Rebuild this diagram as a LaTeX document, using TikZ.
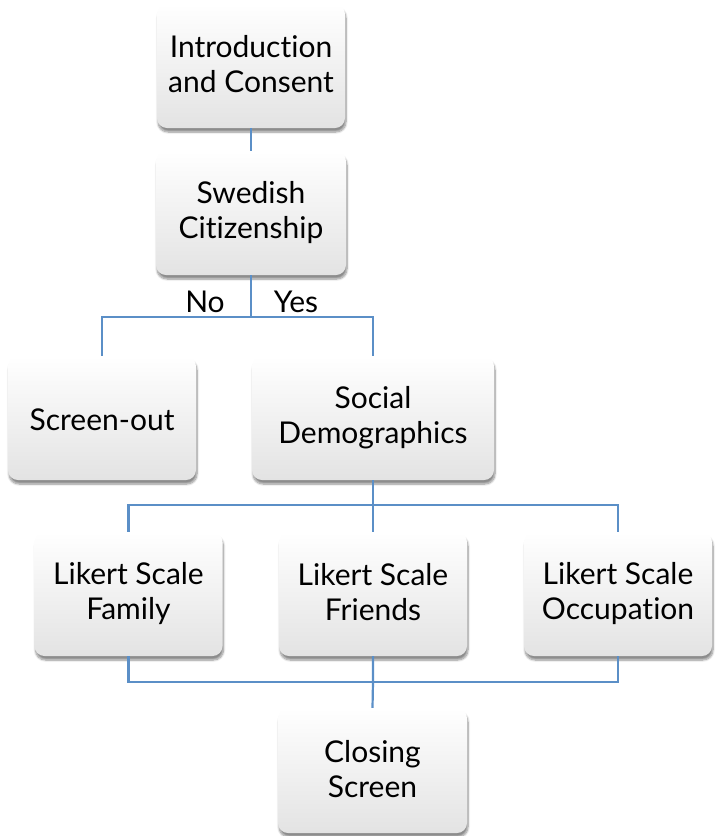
\documentclass[tikz,border=0pt]{standalone}
\usepackage{fontspec}
\setmainfont{Lato}[Ligatures=CommonOff]
\usetikzlibrary{shadows.blur}
\definecolor{conn}{HTML}{5B8FC7}
% fixed line struts so every box text sits the same way
\newcommand{\topstrut}{\rule{0pt}{28pt}}
\newcommand{\botstrut}{\rule[-4pt]{0pt}{4pt}}
\tikzset{
  x=1pt, y=1pt,
  box/.style={rounded corners=10pt, minimum width=188pt, minimum height=124pt,
    top color=white, bottom color=black!11, align=center, inner sep=0pt,
    font=\fontsize{30}{35}\selectfont,
    execute at begin node=\topstrut, execute at end node=\botstrut,
    blur shadow={shadow xshift=1pt, shadow yshift=-4pt, shadow blur steps=8, shadow opacity=45}},
  link/.style={draw=conn, line width=2.2pt},
  lbl/.style={font=\fontsize{30}{35}\selectfont, inner sep=0pt, anchor=base}
}
\begin{document}
\begin{tikzpicture}
\useasboundingbox (0,0) rectangle (716,-836);
% process boxes
\node[box] (intro) at (251,-66) {Introduction\\and Consent};
\node[box, minimum width=190pt] (swed) at (251,-213) {Swedish\\Citizenship};
\node[box] (screen) at (102,-418) {Screen-out};
\node[box, minimum width=242pt] (social) at (373,-418) {Social\\Demographics};
\node[box] (fam) at (128.5,-594) {Likert Scale\\Family};
\node[box] (fri) at (373,-594) {Likert Scale\\Friends};
\node[box] (occ) at (618,-594) {Likert Scale\\Occupation};
\node[box, minimum width=189pt, minimum height=125pt] (clos) at (372.5,-770.5) {Closing\\Screen};
% junction points of the connectors
\coordinate (j1) at (251,-317);
\coordinate (j2) at (373,-505);
\coordinate (j3) at (373,-682);
% connectors
\draw[link] (intro.south) -- (swed.north);
\draw[link] (swed.south) -- (j1);
\draw[link] (screen.north) |- (j1) -| (social.north);
\draw[link] (social.south) -- (j2);
\draw[link] (fam.north) |- (j2) -| (occ.north);
\draw[link] (fri.north) -- (j2);
\draw[link] (fam.south) |- (j3) -| (occ.south);
\draw[link] (fri.south) -- (j3) -- (clos.north);
% branch labels
\node[lbl] (no) at (205,-312) {No};
\node[lbl] (yes) at (296,-312) {Yes};
\end{tikzpicture}
\end{document}
